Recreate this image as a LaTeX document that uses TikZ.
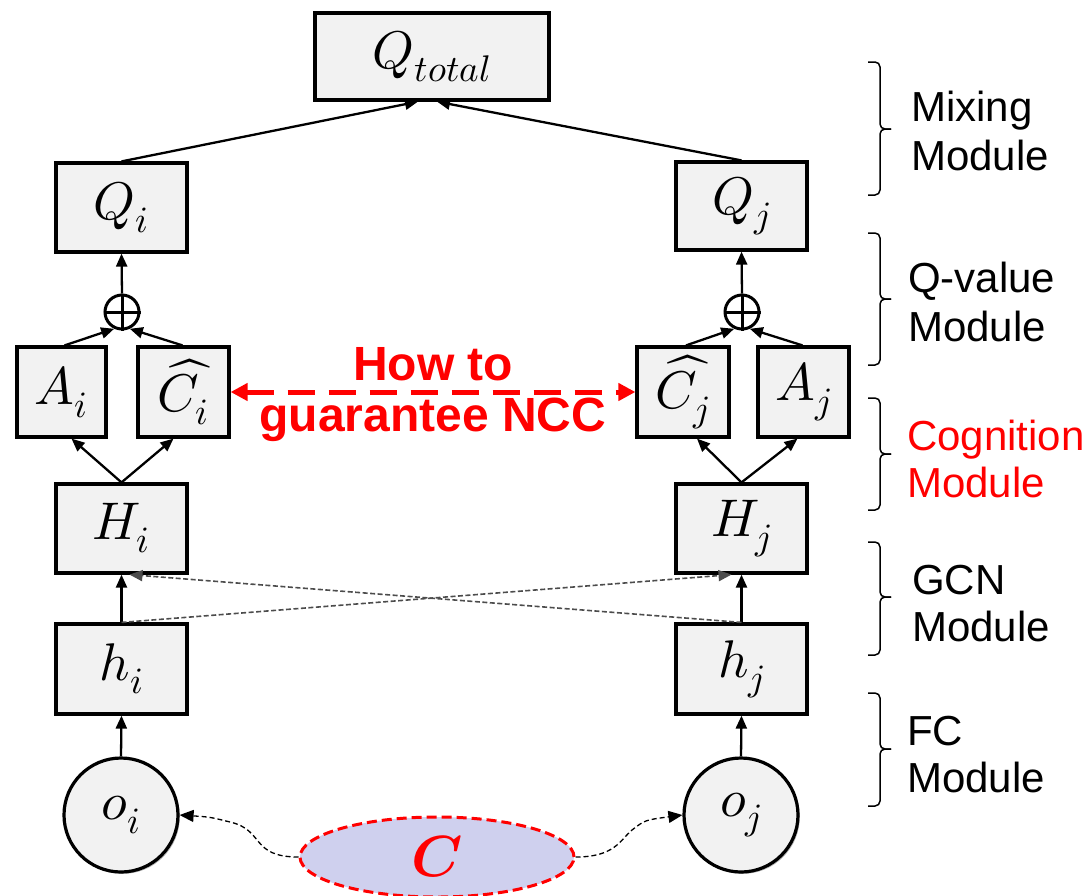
\documentclass[tikz,border=0pt]{standalone}
\usepackage{fontspec}
\usepackage{unicode-math}
\setmathfont{Latin Modern Math}
\newfontfamily\arialfont{Liberation Sans}
\usetikzlibrary{arrows.meta,shapes.geometric,shadows}
\definecolor{boxfill}{HTML}{F2F2F2}
\definecolor{ellfill}{HTML}{CFD0EE}
\definecolor{pured}{HTML}{FF0000}
\begin{document}
\begin{tikzpicture}[x=1pt,y=-1pt,
  box/.style={draw=black, line width=3.2pt, fill=boxfill, inner sep=0pt,
    font=\fontsize{53}{56}\selectfont,
    drop shadow={shadow xshift=1.8pt,shadow yshift=-1.8pt,fill=gray!60,opacity=1}},
  obs/.style={box, circle, minimum size=114pt},
  plusnode/.style={circle, draw=black, line width=3pt, fill=white, minimum size=34pt, inner sep=0pt},
  arr/.style={line width=2.3pt, -{Triangle[length=13pt,width=11pt]}},
  darr/.style={line width=1.6pt, draw=black!70, dash pattern=on 5pt off 2.5pt, -{Triangle[length=13pt,width=11pt]}},
  carr/.style={line width=1.3pt, draw=black, dash pattern=on 5pt off 3pt, -{Triangle[length=14pt,width=12pt]}},
  redarr/.style={line width=5pt, draw=pured, dash pattern=on 27pt off 14pt,
    {Triangle[length=17pt,width=17pt]}-{Triangle[length=17pt,width=17pt]}},
  brk/.style={line width=1.5pt, draw=black, rounded corners=5pt},
  modtxt/.style={font=\arialfont\fontsize{42}{48}\selectfont, inner sep=0pt, anchor=base west},
  redtxt/.style={font=\arialfont\bfseries\fontsize{48}{50}\selectfont, text=pured, inner sep=0pt}
]
\useasboundingbox (0,0) rectangle (1091,895);

% boxes
\node[box, minimum width=234pt, minimum height=87pt] (Qt) at (432,56.5) {$Q_{total}$};
\node[box, minimum width=131pt, minimum height=89pt] (Qi) at (121.5,207.5) {$Q_i$};
\node[box, minimum width=131pt, minimum height=88pt] (Qj) at (741.5,206) {$Q_j$};
\node[box, minimum width=89pt, minimum height=90pt] (Ai) at (61.5,392) {$A_i$};
\node[box, minimum width=91pt, minimum height=90pt] (Ci) at (183.5,392) {$\widehat{C}_i$};
\node[box, minimum width=92pt, minimum height=90pt] (Cj) at (683,392) {$\widehat{C}_j$};
\node[box, minimum width=91pt, minimum height=90pt] (Aj) at (803.5,392) {$A_j$};
\node[box, minimum width=131pt, minimum height=89pt] (Hi) at (121.5,528.5) {$H_i$};
\node[box, minimum width=131pt, minimum height=89pt] (Hj) at (741.5,528.5) {$H_j$};
\node[box, minimum width=131pt, minimum height=90pt] (hi) at (121.5,669) {$h_i$};
\node[box, minimum width=131pt, minimum height=90pt] (hj) at (741.5,669) {$h_j$};
\node[obs] (oi) at (121,815) {$o_i$};
\node[obs] (oj) at (741,815) {$o_j$};

% oplus
\node[plusnode] (pi) at (122,312) {};
\draw[line width=3pt] (pi.north) -- (pi.south) (pi.west) -- (pi.east);
\node[plusnode] (pj) at (742,312) {};
\draw[line width=3pt] (pj.north) -- (pj.south) (pj.west) -- (pj.east);

% context ellipse
\node[ellipse, draw=pured, fill=ellfill, line width=3pt, dash pattern=on 10pt off 5pt,
  minimum width=274pt, minimum height=80pt, inner sep=0pt,
  font=\fontsize{58}{60}\selectfont, text=pured] (C) at (437,857) {$\symbfit{C}$};

% connectors
\draw[arr] (Qi.north) -- ([xshift=-14pt]Qt.south);
\draw[arr] (Qj.north) -- ([xshift=5pt]Qt.south);
\draw[arr] (pi.north) -- (Qi.south);
\draw[arr] (pj.north) -- (Qj.south);
\draw[arr] ([xshift=3pt]Ai.north) -- (pi.-115);
\draw[arr] ([xshift=-1pt]Ci.north) -- (pi.-65);
\draw[arr] ([xshift=3pt]Cj.north) -- (pj.-115);
\draw[arr] ([xshift=-1pt]Aj.north) -- (pj.-65);
\draw[arr] (Hi.north) -- ([xshift=10pt]Ai.south);
\draw[arr] (Hi.north) -- ([xshift=-10pt]Ci.south);
\draw[arr] (Hj.north) -- ([xshift=14pt]Cj.south);
\draw[arr] (Hj.north) -- ([xshift=-6pt]Aj.south);
\draw[arr] (hi.north) -- (Hi.south);
\draw[arr] (hj.north) -- (Hj.south);
\draw[arr] (oi.north) -- (hi.south);
\draw[arr] (oj.north) -- (hj.south);
\draw[darr] (hi.north) -- ([xshift=-10pt]Hj.south);
\draw[darr] (hj.north) -- ([xshift=8pt]Hi.south);
\draw[carr] (C.west) .. controls (250,857) and (265,830) .. (230,822) .. controls (210,817) .. (oi.east);
\draw[carr] (C.east) .. controls (615,857) and (620,840) .. (632,830) .. controls (645,820) .. (oj.west);

% red question
\draw[redarr] (Ci.east) -- (Cj.west);
\node[redtxt] (q1) at (433,364) {How to};
\node[redtxt] (q2) at (433,420) {guarantee NCC};

% module brackets
\draw[brk] (868,62) -- (880,62) -- (880,129) -- (891,129);
\draw[brk] (891,129) -- (880,129) -- (880,195) -- (868,195);
\draw[brk] (868,233) -- (880,233) -- (880,299) -- (891,299);
\draw[brk] (891,299) -- (880,299) -- (880,365) -- (868,365);
\draw[brk] (868,398) -- (880,398) -- (880,454) -- (891,454);
\draw[brk] (891,454) -- (880,454) -- (880,510) -- (868,510);
\draw[brk] (868,542) -- (880,542) -- (880,597) -- (891,597);
\draw[brk] (891,597) -- (880,597) -- (880,655) -- (868,655);
\draw[brk] (868,693) -- (880,693) -- (880,749) -- (891,749);
\draw[brk] (891,749) -- (880,749) -- (880,806) -- (868,806);

\node[modtxt] (m1a) at (911,121) {Mixing};
\node[modtxt] (m1b) at (911,170) {Module};
\node[modtxt] (m2a) at (908,292) {Q-value};
\node[modtxt] (m2b) at (908,341) {Module};
\node[modtxt, text=pured] (m3a) at (907,450) {Cognition};
\node[modtxt, text=pured] (m3b) at (907,497) {Module};
\node[modtxt] (m4a) at (912,594) {GCN};
\node[modtxt] (m4b) at (912,641) {Module};
\node[modtxt] (m5a) at (907,745) {FC};
\node[modtxt] (m5b) at (907,792) {Module};
\end{tikzpicture}
\end{document}
